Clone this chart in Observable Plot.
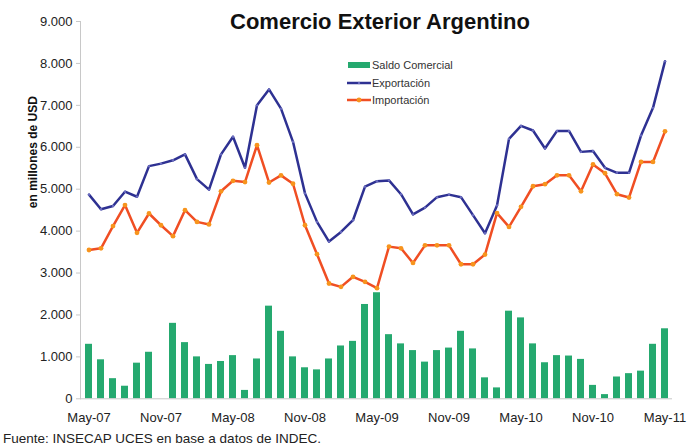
<!DOCTYPE html>
<html>
<head>
<meta charset="utf-8">
<script src="https://cdn.jsdelivr.net/npm/d3@7"></script>
<script src="https://cdn.jsdelivr.net/npm/@observablehq/plot@0.6"></script>
<style>
  html, body { margin: 0; padding: 0; background: #fff; }
  #wrap { position: relative; width: 687px; height: 446px; overflow: hidden; font-family: "Liberation Sans", Arial, sans-serif; }
  #chart { position: absolute; left: 0; top: 0; }
  .title { position: absolute; left: 380px; top: 11px; transform: translateX(-50%); font-size: 22px; line-height: 22px; font-weight: bold; color: #111; white-space: nowrap; }
  .foot { position: absolute; left: 3px; top: 432px; font-size: 13.5px; line-height: 13.5px; color: #222; white-space: nowrap; }
  #legend { position: absolute; left: 344px; top: 55px; }
</style>
</head>
<body>
<div id="wrap">
  <div id="chart"></div>
  <div class="title">Comercio Exterior Argentino</div>
  <div id="legend"></div>
  <div class="foot">Fuente: INSECAP UCES en base a datos de INDEC.</div>
</div>
<script>
// Categories (monthly, May-07 .. May-11)
const months = [
  "May-07","Jun-07","Jul-07","Ago-07","Sep-07","Oct-07","Nov-07","Dic-07",
  "Ene-08","Feb-08","Mar-08","Abr-08","May-08","Jun-08","Jul-08","Ago-08","Sep-08","Oct-08","Nov-08","Dic-08",
  "Ene-09","Feb-09","Mar-09","Abr-09","May-09","Jun-09","Jul-09","Ago-09","Sep-09","Oct-09","Nov-09","Dic-09",
  "Ene-10","Feb-10","Mar-10","Abr-10","May-10","Jun-10","Jul-10","Ago-10","Sep-10","Oct-10","Nov-10","Dic-10",
  "Ene-11","Feb-11","Mar-11","Abr-11","May-11"
];
// Series values, millions of USD
const saldo = [
  1300, 930, 480, 300, 850, 1110, null, 1800,
  1340, 1000, 820, 890, 1030, 200, 950, 2210, 1610, 1000, 740, 690,
  950, 1260, 1370, 2250, 2530, 1530, 1310, 1150, 875, 1150, 1210, 1610,
  1190, 500, 260, 2090, 1930, 1310, 860, 1030, 1020, 940, 320, 100,
  520, 600, 660, 1300, 1670
];
const exportacion = [
  4870, 4520, 4600, 4940, 4820, 5550, 5610, 5690,
  5830, 5240, 4990, 5830, 6250, 5510, 7000, 7380, 6920, 6130, 4900, 4220,
  3750, 3980, 4260, 5060, 5190, 5210, 4880, 4400, 4560, 4810, 4870, 4810,
  4380, 3950, 4610, 6200, 6510, 6400, 5970, 6390, 6390, 5890, 5910, 5510,
  5390, 5390, 6280, 6940, 8050
];
const importacion = [
  3550, 3590, 4120, 4620, 3960, 4420, 4140, 3880,
  4500, 4220, 4160, 4950, 5200, 5170, 6050, 5160, 5330, 5130, 4140, 3450,
  2750, 2670, 2910, 2790, 2640, 3630, 3590, 3240, 3660, 3660, 3660, 3210,
  3210, 3440, 4430, 4100, 4580, 5070, 5120, 5330, 5330, 4950, 5590, 5380,
  4880, 4800, 5650, 5650, 6380
];
// Tick labels
const xTicks = ["May-07","Nov-07","May-08","Nov-08","May-09","Nov-09","May-10","Nov-10","May-11"];
const yTicks = [0, 1000, 2000, 3000, 4000, 5000, 6000, 7000, 8000, 9000];
const yLabel = "en millones de USD";
const seriesNames = ["Saldo Comercial", "Exportación", "Importación"];

const colors = { saldo: "#25a96f", exp: "#2e3192", imp: "#f04e23", impMarker: "#f7941d" };

const rows = months.map((m, i) => ({ month: m, saldo: saldo[i], exp: exportacion[i], imp: importacion[i] }));
const fmt = d => d === 0 ? "0" : d3.format(",")(d).replace(/,/g, ".");

const plot = Plot.plot({
  width: 687,
  height: 446,
  marginLeft: 80,
  marginRight: 15,
  marginTop: 21,
  marginBottom: 47.7,
  style: { fontFamily: "'Liberation Sans', Arial, sans-serif", background: "transparent" },
  x: { type: "band", domain: months, paddingInner: 0.42, paddingOuter: 0.21 },
  y: { domain: [0, 9000] },
  marks: [
    Plot.barY(rows.filter(d => d.saldo != null), { x: "month", y: "saldo", fill: colors.saldo }),
    Plot.ruleY([0], { stroke: "#c8c8c8", strokeWidth: 1 }),
    Plot.frame({ anchor: "left", stroke: "#c8c8c8" }),
    Plot.axisY({ ticks: yTicks, tickFormat: fmt, tickSize: 4, tickPadding: 4, fontSize: 13, stroke: "#c8c8c8", fill: "#222", label: null }),
    Plot.axisX({ ticks: xTicks, tickSize: 0, tickPadding: 14, fontSize: 13, fill: "#222", label: null }),
    Plot.text([yLabel], { frameAnchor: "left", dx: -47, dy: -2, rotate: -90, text: d => d, fontSize: 12, fontWeight: "bold", fill: "#111" }),
    Plot.line(rows, { x: "month", y: "exp", stroke: colors.exp, strokeWidth: 2.5 }),
    Plot.dot(rows, { x: "month", y: "exp", r: 1.2, fill: "#6a6cc0", stroke: "none" }),
    Plot.line(rows, { x: "month", y: "imp", stroke: colors.imp, strokeWidth: 2.5 }),
    Plot.dot(rows, { x: "month", y: "imp", r: 2.4, fill: colors.impMarker, stroke: "none" })
  ]
});
document.getElementById("chart").appendChild(plot);

// Legend
const lg = d3.select("#legend").append("svg").attr("width", 140).attr("height", 56)
  .style("font-family", "'Liberation Sans', Arial, sans-serif");
const rowY = [10, 28, 45];
lg.append("rect").attr("x", 4).attr("y", rowY[0] - 3).attr("width", 22).attr("height", 6).attr("fill", colors.saldo);
lg.append("line").attr("x1", 3).attr("x2", 27).attr("y1", rowY[1]).attr("y2", rowY[1]).attr("stroke", colors.exp).attr("stroke-width", 2.5);
lg.append("circle").attr("cx", 15).attr("cy", rowY[1]).attr("r", 1.2).attr("fill", "#6a6cc0");
lg.append("line").attr("x1", 3).attr("x2", 27).attr("y1", rowY[2]).attr("y2", rowY[2]).attr("stroke", colors.imp).attr("stroke-width", 2.5);
lg.append("circle").attr("cx", 15).attr("cy", rowY[2]).attr("r", 2.4).attr("fill", colors.impMarker);
seriesNames.forEach((name, i) => {
  lg.append("text").attr("x", 28).attr("y", rowY[i]).attr("dy", "0.35em")
    .attr("font-size", 11).attr("fill", "#333").text(name);
});
</script>
</body>
</html>
